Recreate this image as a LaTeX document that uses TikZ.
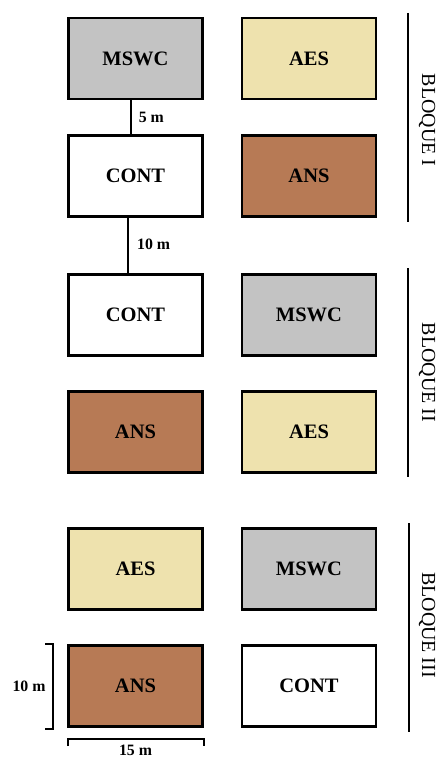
\documentclass[tikz,border=0pt]{standalone}
\usepackage{fontspec}
\setmainfont{Liberation Serif}
\usetikzlibrary{calc}

\definecolor{gris}{HTML}{C3C3C3}
\definecolor{arena}{HTML}{EEE2AE}
\definecolor{suelo}{HTML}{B77A55}

\tikzset{
  parcela/.style={draw, line width=2.5pt, minimum width=4.02cm, minimum height=2.43cm,
    inner sep=0pt, font=\fontsize{17.5}{20}\selectfont\bfseries},
  mswc/.style={parcela, fill=gris},
  aes/.style={parcela, fill=arena},
  ans/.style={parcela, fill=suelo},
  cont/.style={parcela, fill=white},
  enlace/.style={line width=1.8pt},
  medida/.style={font=\fontsize{13.5}{15}\selectfont\bfseries},
  bloque/.style={rotate=-90, font=\fontsize{17}{20}\selectfont}
}

\begin{document}
\begin{tikzpicture}[x=0.03cm,y=-0.03cm]

\useasboundingbox (0,0) rectangle (437,758);

% Bloque I
\node[mswc] (mswcI) at (135.5,58.5){MSWC};
\node[aes] (aesI) at (309,58.5){AES};
\node[cont] (contI) at (135.5,176){CONT};
\node[ans] (ansI) at (309,176){ANS};

% Bloque II
\node[cont] (contII) at (135.5,315){CONT};
\node[mswc] (mswcII) at (309,315){MSWC};
\node[ans] (ansII) at (135.5,432){ANS};
\node[aes] (aesII) at (309,432){AES};

% Bloque III
\node[aes] (aesIII) at (135.5,569){AES};
\node[mswc] (mswcIII) at (309,569){MSWC};
\node[ans] (ansIII) at (135.5,686){ANS};
\node[cont] (contIII) at (309,686){CONT};

% Distancias entre parcelas
\draw[enlace] ([xshift=-0.13cm]mswcI.south) -- ([xshift=-0.13cm]contI.north)
  node[midway,right,medida,xshift=0.08cm]{5 m};
\draw[enlace] ([xshift=-0.22cm]contI.south) -- ([xshift=-0.22cm]contII.north)
  node[pos=0.47,right,medida,xshift=0.12cm]{10 m};

% Lineas de bloque
\coordinate (l1a) at (408,13);
\coordinate (l1b) at (408,222);
\coordinate (l2a) at (408,268);
\coordinate (l2b) at (408,477);
\coordinate (l3a) at (409,523);
\coordinate (l3b) at (409,732);
\draw[enlace] (l1a) -- (l1b);
\draw[enlace] (l2a) -- (l2b);
\draw[enlace] (l3a) -- (l3b);
\node[bloque] (bI) at (427,120){BLOQUE I};
\node[bloque] (bII) at (427,372.5){BLOQUE II};
\node[bloque] (bIII) at (427,625){BLOQUE III};

% Cotas de la parcela
\coordinate (c1) at (45,644);
\coordinate (c2) at (53,644);
\coordinate (c3) at (53,729);
\coordinate (c4) at (45,729);
\draw[enlace] (c1) -- (c2) -- (c3) -- (c4);
\node[medida] (alto) at (29,686){10 m};

\coordinate (d1) at (68,746);
\coordinate (d2) at (68,739);
\coordinate (d3) at (204,739);
\coordinate (d4) at (204,746);
\draw[enlace] (d1) -- (d2) -- (d3) -- (d4);
\node[medida] (ancho) at (135.5,750){15 m};

\end{tikzpicture}
\end{document}
